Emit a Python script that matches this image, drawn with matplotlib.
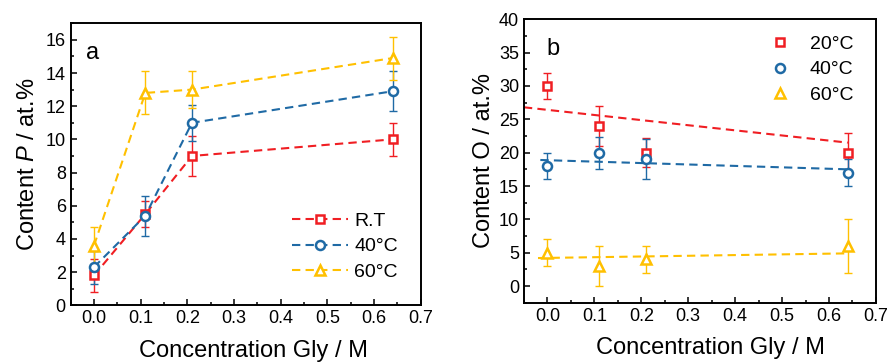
import matplotlib
matplotlib.use('Agg')
import matplotlib.pyplot as plt
from matplotlib.ticker import MultipleLocator

plt.rcParams['font.family'] = ['Liberation Sans', 'DejaVu Sans']
plt.rcParams['mathtext.fontset'] = 'custom'
plt.rcParams['mathtext.it'] = 'Liberation Sans:italic'

RED = '#f01e23'
BLUE = '#1f6aa5'
YELLOW = '#ffc000'

# panel a: P content
gly = [0.0, 0.11, 0.21, 0.64]
p_rt = [1.8, 5.5, 9.0, 10.0]
p_rt_err = [1.0, 0.8, 1.2, 1.0]
p_40 = [2.3, 5.4, 11.0, 12.9]
p_40_err = [1.0, 1.2, 1.1, 1.2]
p_60 = [3.6, 12.8, 13.0, 14.9]
p_60_err = [1.1, 1.3, 1.1, 1.3]

# panel b: O content
o_20 = [30.0, 24.0, 20.0, 20.0]
o_20_err = [2.0, 3.0, 2.2, 3.0]
o_40 = [18.0, 20.0, 19.0, 17.0]
o_40_err = [2.0, 2.4, 3.0, 2.0]
o_60 = [5.0, 3.0, 4.0, 6.0]
o_60_err = [2.0, 3.0, 2.0, 4.0]

# trend lines in panel b (end points)
fit_20_x = [-0.05, 0.64]
fit_20_y = [26.8, 21.5]
fit_40_x = [-0.015, 0.64]
fit_40_y = [18.9, 17.5]
fit_60_x = [-0.02, 0.64]
fit_60_y = [4.2, 4.9]

DASH = (0, (4, 2.5))
MSIZE = {'s': 6.0, 'o': 6.5, '^': 7.5}


def style_axes(ax, label_x):
    for s in ax.spines.values():
        s.set_linewidth(1.4)
    ax.tick_params(which='both', direction='in', top=False, right=False,
                   labelsize=13, width=1.1)
    ax.tick_params(which='major', length=4.5)
    ax.tick_params(which='minor', length=2.5)
    ax.set_xlim(-0.05, 0.7)
    ax.xaxis.set_major_locator(MultipleLocator(0.1))
    ax.xaxis.set_minor_locator(MultipleLocator(0.05))
    ax.xaxis.set_major_formatter(matplotlib.ticker.FormatStrFormatter('%.1f'))
    ax.set_xlabel('Concentration Gly / M', fontsize=17, labelpad=9)
    ax.xaxis.label.set_x(label_x)


def series(ax, y, err, color, marker, label, line=True):
    ax.errorbar(gly, y, yerr=err, fmt='none', ecolor=color, elinewidth=1.0,
                capsize=3, capthick=1.0, zorder=2)
    ax.plot(gly, y, linestyle=DASH if line else 'none', color=color,
            lw=1.5, marker=marker, ms=MSIZE[marker], mfc='white',
            mec=color, mew=1.8, label=label, zorder=3)


fig = plt.figure(figsize=(8.88, 3.63), dpi=100)

ax1 = fig.add_axes([0.0796, 0.159, 0.394, 0.777])
series(ax1, p_rt, p_rt_err, RED, 's', 'R.T')
series(ax1, p_40, p_40_err, BLUE, 'o', '40°C')
series(ax1, p_60, p_60_err, YELLOW, '^', '60°C')
style_axes(ax1, 0.522)
ax1.set_ylim(0, 17)
ax1.yaxis.set_major_locator(MultipleLocator(2))
ax1.yaxis.set_minor_locator(MultipleLocator(1))
ax1.set_ylabel('Content $\\mathit{P}$ / at.%', fontsize=17, labelpad=5)
ax1.text(0.045, 0.935, 'a', transform=ax1.transAxes, fontsize=17, va='top')
ax1.legend(loc='lower right', frameon=False, fontsize=14, handlelength=2.9,
           handletextpad=0.3, labelspacing=0.4, bbox_to_anchor=(0.985, 0.025))

ax2 = fig.add_axes([0.590, 0.166, 0.3964, 0.781])
ax2.plot(fit_20_x, fit_20_y, color=RED, lw=1.5, ls=DASH, zorder=1)
ax2.plot(fit_40_x, fit_40_y, color=BLUE, lw=1.5, ls=DASH, zorder=1)
ax2.plot(fit_60_x, fit_60_y, color=YELLOW, lw=1.5, ls=DASH, zorder=1)
series(ax2, o_20, o_20_err, RED, 's', '20°C', line=False)
series(ax2, o_40, o_40_err, BLUE, 'o', '40°C', line=False)
series(ax2, o_60, o_60_err, YELLOW, '^', '60°C', line=False)
style_axes(ax2, 0.53)
ax2.set_ylim(-2.5, 40)
ax2.yaxis.set_major_locator(MultipleLocator(5))
ax2.yaxis.set_minor_locator(MultipleLocator(2.5))
ax2.set_ylabel('Content O / at.%', fontsize=17, labelpad=3)
ax2.text(0.065, 0.935, 'b', transform=ax2.transAxes, fontsize=17, va='top')
ax2.legend(loc='upper right', frameon=False, fontsize=14, handlelength=0.8,
           handletextpad=1.1, labelspacing=0.4, bbox_to_anchor=(0.985, 1.005))

fig.savefig('out.png', dpi=100)
